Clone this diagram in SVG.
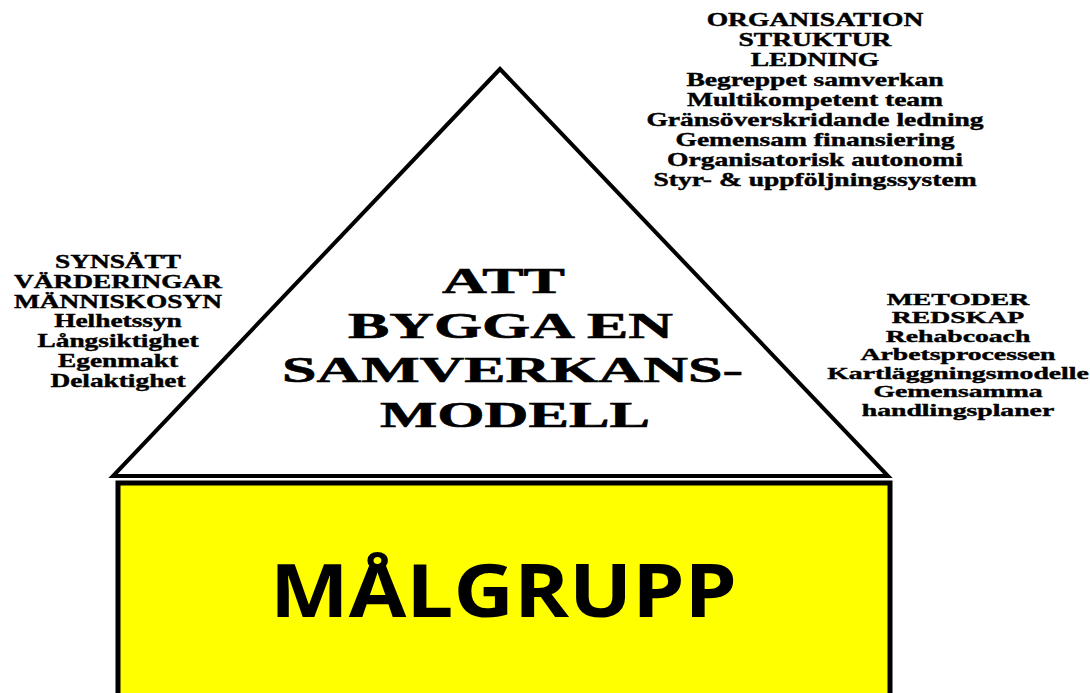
<svg xmlns="http://www.w3.org/2000/svg" width="1090" height="693" viewBox="0 0 1090 693">
<style>
.sm{font-family:"Liberation Serif","Times New Roman",serif;font-weight:bold;font-size:18px;fill:#000;stroke:#000;stroke-width:0.4;text-anchor:middle}
.sr{font-family:"Liberation Serif","Times New Roman",serif;font-weight:bold;font-size:17px;fill:#000;stroke:#000;stroke-width:0.4;text-anchor:middle}
.big{font-family:"Liberation Serif","Times New Roman",serif;font-weight:bold;font-size:36px;fill:#000;stroke:#000;stroke-width:0.6}
.mal{font-family:"Open Sans","Noto Sans",sans-serif;font-weight:bold;font-size:73px;fill:#000}
</style>
<rect width="1090" height="693" fill="#fff"/>
<g id="malgrupp">
<rect x="118" y="483" width="772" height="230" fill="#ffff00" stroke="#000" stroke-width="5"/>
<text class="mal" x="270" y="617" textLength="467" lengthAdjust="spacingAndGlyphs">MÅLGRUPP</text>
</g>
<g id="triangel">
<polygon points="500,69 113,476 888,476" fill="#fff" stroke="#000" stroke-width="4" stroke-linejoin="miter"/>
<text class="big" x="442" y="293" textLength="123" lengthAdjust="spacingAndGlyphs">ATT</text>
<text class="big" x="348" y="338" textLength="325" lengthAdjust="spacingAndGlyphs">BYGGA EN</text>
<text class="big" x="282" y="382" textLength="461" lengthAdjust="spacingAndGlyphs">SAMVERKANS-</text>
<text class="big" x="380" y="427" textLength="270" lengthAdjust="spacingAndGlyphs">MODELL</text>
</g>
<g id="organisation" transform="translate(815,0) scale(1.53,1)">
<text class="sm" x="0" y="26">ORGANISATION</text>
<text class="sm" x="0" y="46">STRUKTUR</text>
<text class="sm" x="0" y="66">LEDNING</text>
<text class="sm" x="0" y="86">Begreppet samverkan</text>
<text class="sm" x="0" y="106">Multikompetent team</text>
<text class="sm" x="0" y="126">Gränsöverskridande ledning</text>
<text class="sm" x="0" y="146">Gemensam finansiering</text>
<text class="sm" x="0" y="166">Organisatorisk autonomi</text>
<text class="sm" x="0" y="186">Styr-  &amp; uppföljningssystem</text>
</g>
<g id="synsatt" transform="translate(118,0) scale(1.52,1)">
<text class="sm" x="0" y="268">SYNSÄTT</text>
<text class="sm" x="0" y="288">VÄRDERINGAR</text>
<text class="sm" x="0" y="308">MÄNNISKOSYN</text>
<text class="sm" x="0" y="327">Helhetssyn</text>
<text class="sm" x="0" y="347">Långsiktighet</text>
<text class="sm" x="0" y="367">Egenmakt</text>
<text class="sm" x="0" y="387">Delaktighet</text>
</g>
<g id="metoder" transform="translate(958,0) scale(1.63,1)">
<text class="sr" x="0" y="305">METODER</text>
<text class="sr" x="0" y="323">REDSKAP</text>
<text class="sr" x="0" y="342">Rehabcoach</text>
<text class="sr" x="0" y="360">Arbetsprocessen</text>
<text class="sr" x="0" y="379">Kartläggningsmodelle</text>
<text class="sr" x="0" y="397">Gemensamma</text>
<text class="sr" x="0" y="416">handlingsplaner</text>
</g>
</svg>
